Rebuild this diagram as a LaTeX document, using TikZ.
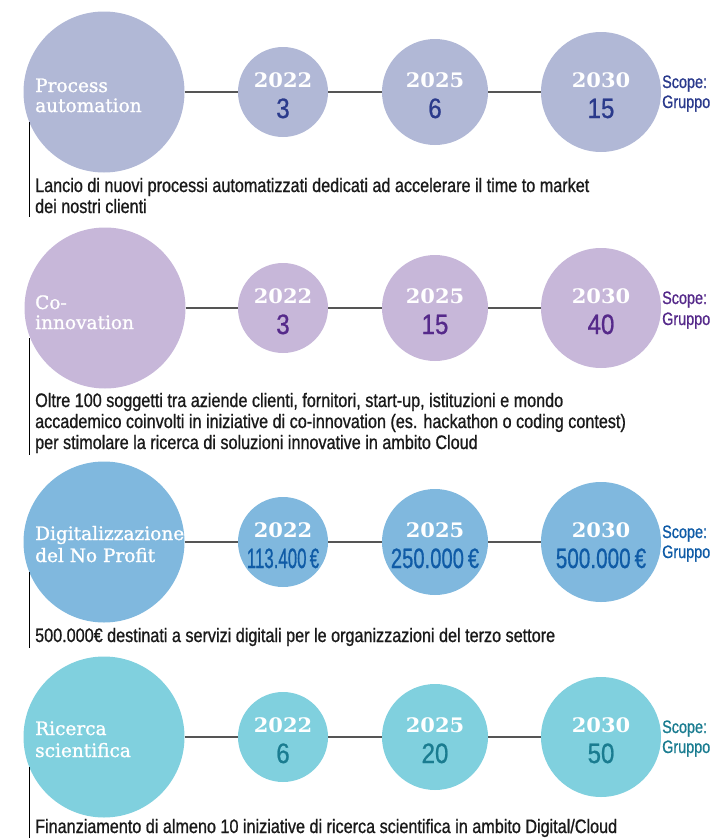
\documentclass[tikz,border=0pt]{standalone}
\usepackage{fontspec}
\newfontfamily\descfont[FakeStretch=0.83,FakeBold=0.9]{Liberation Sans}
\newfontfamily\scopefont[FakeStretch=0.8,FakeBold=0.8]{Liberation Sans}
\newfontfamily\numfont[FakeStretch=0.86,FakeBold=0.8]{Liberation Sans}
\newfontfamily\titlefont[FakeStretch=1.0,FakeBold=1.2]{DejaVu Serif}
\newfontfamily\yearfont[FakeStretch=1.05]{DejaVu Serif}
\definecolor{fillA}{HTML}{B1B8D6}
\definecolor{numA}{HTML}{2A3A8C}
\definecolor{fillB}{HTML}{C7B7D9}
\definecolor{numB}{HTML}{55298A}
\definecolor{fillC}{HTML}{80B8DE}
\definecolor{numC}{HTML}{0F5BA6}
\definecolor{fillD}{HTML}{80D0DE}
\definecolor{numD}{HTML}{1A7C90}
\definecolor{linegray}{HTML}{555555}
\definecolor{txt}{HTML}{1A1A1A}
\tikzset{
  bigc/.style={circle, inner sep=0pt, minimum size=161pt, fill=#1},
  c22/.style={circle, inner sep=0pt, minimum size=90pt, fill=#1},
  c25/.style={circle, inner sep=0pt, minimum size=106pt, fill=#1},
  c30/.style={circle, inner sep=0pt, minimum size=120pt, fill=#1},
  conn/.style={draw=linegray, line width=1.3pt},
  vline/.style={draw=black, line width=0.9pt},
  titletxt/.style={anchor=base west, inner sep=0pt, text=white, font=\titlefont\fontsize{18.5}{20}\selectfont},
  yeartxt/.style={anchor=base, inner sep=0pt, text=white, font=\yearfont\bfseries\fontsize{20}{24}\selectfont},
  numtxt/.style={anchor=base, inner sep=0pt, text=#1, font=\numfont\fontsize{28}{30}\selectfont},
  scopetxt/.style={anchor=base west, inner sep=0pt, text=#1, font=\scopefont\fontsize{18}{21}\selectfont},
  desctxt/.style={anchor=base west, inner sep=0pt, text=txt, font=\descfont\fontsize{19.5}{21}\selectfont}
}
\begin{document}
\begin{tikzpicture}[x=1pt, y=-1pt]
\useasboundingbox (0,0) rectangle (716,838);
% ---------- Row 1 ----------
\node[bigc=fillA] (b1) at (104,92) {};
\node[c22=fillA] (a1) at (283,92) {};
\node[c25=fillA] (m1) at (435,92) {};
\node[c30=fillA] (z1) at (601,92) {};
\draw[conn] (b1.east) -- (a1.west);
\draw[conn] (a1.east) -- (m1.west);
\draw[conn] (m1.east) -- (z1.west);
\node[titletxt] (t1a) at (35,92) {Process};
\node[titletxt] (t1b) at (35,112) {automation};
\node[yeartxt] (ya1) at (283,87) {2022};
\node[yeartxt] (ym1) at (435,87) {2025};
\node[yeartxt] (yz1) at (601,87) {2030};
\node[numtxt=numA] (na1) at (283,118) {3};
\node[numtxt=numA] (nm1) at (435,118) {6};
\node[numtxt=numA] (nz1) at (601,118) {15};
\node[scopetxt=numA] (s1a) at (662,88) {Scope:};
\node[scopetxt=numA] (s1b) at (662,108) {Gruppo};
\coordinate (v1a) at (29,122);
\coordinate (v1b) at (29,217);
\draw[vline] (v1a) -- (v1b);
\node[desctxt] (d1a) at (35,192) {Lancio di nuovi processi automatizzati dedicati ad accelerare il time to market};
\node[desctxt] (d1b) at (35,213) {dei nostri clienti};
% ---------- Row 2 ----------
\node[bigc=fillB] (b2) at (105,308) {};
\node[c22=fillB] (a2) at (283,308) {};
\node[c25=fillB] (m2) at (435,308) {};
\node[c30=fillB] (z2) at (601,308) {};
\draw[conn] (b2.east) -- (a2.west);
\draw[conn] (a2.east) -- (m2.west);
\draw[conn] (m2.east) -- (z2.west);
\node[titletxt] (t2a) at (35,309) {Co-};
\node[titletxt] (t2b) at (35,329) {innovation};
\node[yeartxt] (ya2) at (283,303) {2022};
\node[yeartxt] (ym2) at (435,303) {2025};
\node[yeartxt] (yz2) at (601,303) {2030};
\node[numtxt=numB] (na2) at (283,334) {3};
\node[numtxt=numB] (nm2) at (435,334) {15};
\node[numtxt=numB] (nz2) at (601,334) {40};
\node[scopetxt=numB] (s2a) at (662,304) {Scope:};
\node[scopetxt=numB] (s2b) at (662,325) {Gruppo};
\coordinate (v2a) at (29,338);
\coordinate (v2b) at (29,455);
\draw[vline] (v2a) -- (v2b);
\node[desctxt] (d2a) at (35,407) {Oltre 100 soggetti tra aziende clienti, fornitori, start-up, istituzioni e mondo};
\node[desctxt] (d2b) at (35,428) {accademico coinvolti in iniziative di co-innovation (es. hackathon o coding contest)};
\node[desctxt] (d2c) at (35,449) {per stimolare la ricerca di soluzioni innovative in ambito Cloud};
% ---------- Row 3 ----------
\node[bigc=fillC] (b3) at (104,542) {};
\node[c22=fillC] (a3) at (283,542) {};
\node[c25=fillC] (m3) at (435,542) {};
\node[c30=fillC] (z3) at (601,542) {};
\draw[conn] (b3.east) -- (a3.west);
\draw[conn] (a3.east) -- (m3.west);
\draw[conn] (m3.east) -- (z3.west);
\node[titletxt] (t3a) at (35,540) {Digitalizzazione};
\node[titletxt] (t3b) at (35,562) {del No Profit};
\node[yeartxt] (ya3) at (283,537) {2022};
\node[yeartxt] (ym3) at (435,537) {2025};
\node[yeartxt] (yz3) at (601,537) {2030};
\node[numtxt=numC] (na3) at (283,568) {\scalebox{0.7}[1]{113.400\,€}};
\node[numtxt=numC] (nm3) at (435,568) {\scalebox{0.84}[1]{250.000\,€}};
\node[numtxt=numC] (nz3) at (601,568) {\scalebox{0.86}[1]{500.000\,€}};
\node[scopetxt=numC] (s3a) at (662,538) {Scope:};
\node[scopetxt=numC] (s3b) at (662,558) {Gruppo};
\coordinate (v3a) at (29,572);
\coordinate (v3b) at (29,648);
\draw[vline] (v3a) -- (v3b);
\node[desctxt] (d3a) at (35,642) {500.000€ destinati a servizi digitali per le organizzazioni del terzo settore};
% ---------- Row 4 ----------
\node[bigc=fillD] (b4) at (104,737) {};
\node[c22=fillD] (a4) at (283,737) {};
\node[c25=fillD] (m4) at (435,737) {};
\node[c30=fillD] (z4) at (601,737) {};
\draw[conn] (b4.east) -- (a4.west);
\draw[conn] (a4.east) -- (m4.west);
\draw[conn] (m4.east) -- (z4.west);
\node[titletxt] (t4a) at (35,735) {Ricerca};
\node[titletxt] (t4b) at (35,757) {scientifica};
\node[yeartxt] (ya4) at (283,732) {2022};
\node[yeartxt] (ym4) at (435,732) {2025};
\node[yeartxt] (yz4) at (601,732) {2030};
\node[numtxt=numD] (na4) at (283,763) {6};
\node[numtxt=numD] (nm4) at (435,763) {20};
\node[numtxt=numD] (nz4) at (601,763) {50};
\node[scopetxt=numD] (s4a) at (662,733) {Scope:};
\node[scopetxt=numD] (s4b) at (662,753) {Gruppo};
\coordinate (v4a) at (29,767);
\coordinate (v4b) at (29,838);
\draw[vline] (v4a) -- (v4b);
\node[desctxt] (d4a) at (35,833) {Finanziamento di almeno 10 iniziative di ricerca scientifica in ambito Digital/Cloud};
\end{tikzpicture}
\end{document}
